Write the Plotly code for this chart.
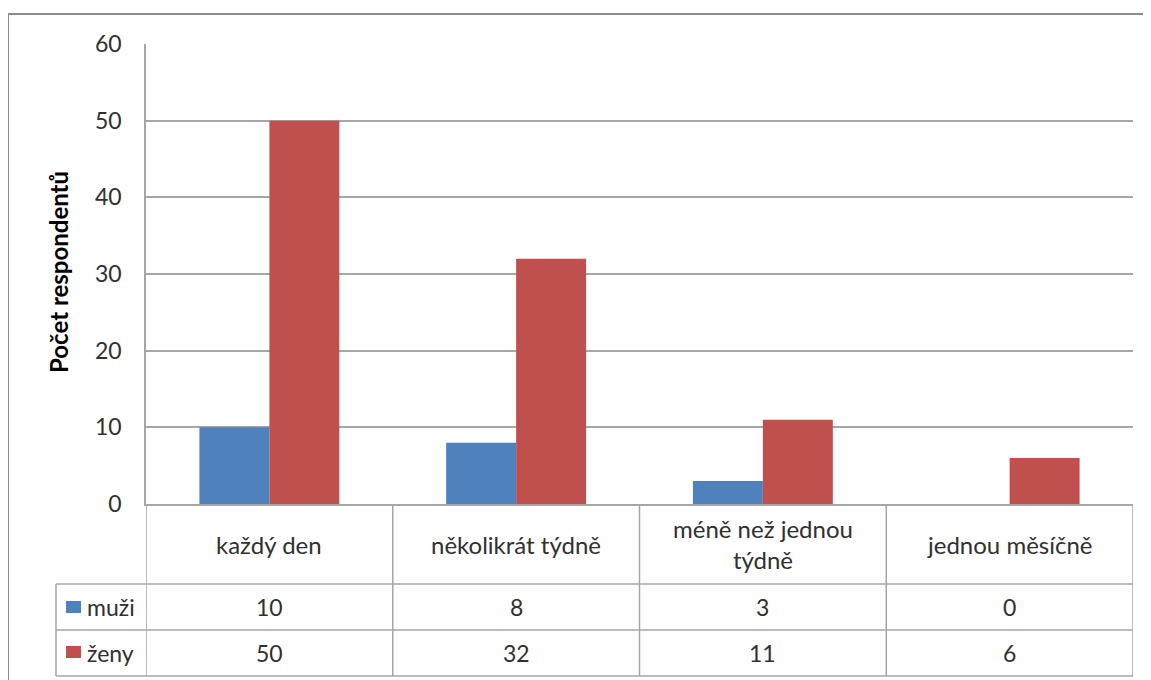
import plotly.graph_objects as go

categories = ["každý den", "několikrát týdně", "méně než jednou<br>týdně", "jednou měsíčně"]
muzi = [10, 8, 3, 0]
zeny = [50, 32, 11, 6]
series_names = ["muži", "ženy"]
colors = ["#4F81BD", "#C0504D"]

FONT = "Lato, Calibri, 'Liberation Sans', sans-serif"
TXT = "#303030"
GRID = "#a6a6a6"
FS = 23

# page has an 8px body margin, so the figure sits 8px right/down in the window;
# shrink it by that much so the page does not overflow
W, H = 1151 - 8, 680 - 8
L, T = 146 - 8, 44 - 8
pw, ph = 987, 460
R, B = W - L - pw, H - T - ph


def py(pix):  # window pixel y -> paper y
    return (504 - pix) / ph


def px_(pix):  # window pixel x -> paper x
    return (pix - 146) / pw


def label(x, y, text, xref="x", size=FS, **kw):
    d = dict(x=x, y=y, xref=xref, yref="paper", text=text, showarrow=False,
             xanchor="center", yanchor="middle",
             font=dict(size=size, color=TXT, family=FONT))
    d.update(kw)
    return d


fig = go.Figure()
for name, vals, col in zip(series_names, [muzi, zeny], colors):
    fig.add_trace(go.Bar(x=list(range(len(categories))), y=vals, name=name,
                         marker=dict(color=col, line=dict(width=0))))

n = len(categories)
shapes = []
line = dict(color=GRID, width=1.5)
# horizontal table lines
for yy in [584, 630, 676]:
    shapes.append(dict(type="line", xref="paper", yref="paper", x0=px_(56), x1=1,
                       y0=py(yy), y1=py(yy), line=line))
# vertical table lines
for i in range(n + 1):
    shapes.append(dict(type="line", xref="x", yref="paper", x0=i - 0.5, x1=i - 0.5,
                       y0=0, y1=py(676), line=line))
shapes.append(dict(type="line", xref="paper", yref="paper", x0=px_(56), x1=px_(56),
                   y0=py(584), y1=py(676), line=line))
# legend keys
for yy, col in [(607, colors[0]), (652, colors[1])]:
    shapes.append(dict(type="rect", xref="paper", yref="paper", x0=px_(66), x1=px_(81),
                       y0=py(yy - 6), y1=py(yy + 6), fillcolor=col, line=dict(width=0)))
# outer chart border (top and left edges are the only visible ones)
border = dict(color="#8c8c8c", width=2)
shapes.append(dict(type="line", xref="paper", yref="paper", x0=px_(8), x1=px_(1160),
                   y0=py(14), y1=py(14), line=border))
shapes.append(dict(type="line", xref="paper", yref="paper", x0=px_(8), x1=px_(8),
                   y0=py(14), y1=py(690), line=border))

ann = []
for i, c in enumerate(categories):
    ann.append(label(i, py(544), c, size=24))
    ann.append(label(i, py(607), str(muzi[i])))
    ann.append(label(i, py(653), str(zeny[i])))
for name, yy in zip(series_names, [607, 653]):
    ann.append(label(px_(85), py(yy), name, xref="paper", xanchor="left"))
ann.append(label(px_(58), py(272), "<b>Počet respondentů</b>", xref="paper", textangle=-90,
                 font=dict(size=24, color="#000000", family=FONT)))

fig.update_layout(
    width=W, height=H,
    margin=dict(l=L, r=R, t=T, b=B),
    paper_bgcolor="white", plot_bgcolor="white",
    barmode="group", bargap=0.433, bargroupgap=0,
    showlegend=False,
    shapes=shapes, annotations=ann,
    font=dict(family=FONT, color=TXT),
)
fig.update_xaxes(range=[-0.5, n - 0.5], showticklabels=False, showgrid=False,
                 showline=True, linecolor=GRID, linewidth=1.5, zeroline=False)
fig.update_yaxes(range=[0, 60], dtick=10, showgrid=True, gridcolor=GRID, gridwidth=1.5,
                 showline=True, linecolor=GRID, linewidth=1.5, zeroline=False,
                 ticks="", ticklabelstandoff=18, tickfont=dict(size=FS, color=TXT, family=FONT))

fig.write_html("out.html")
